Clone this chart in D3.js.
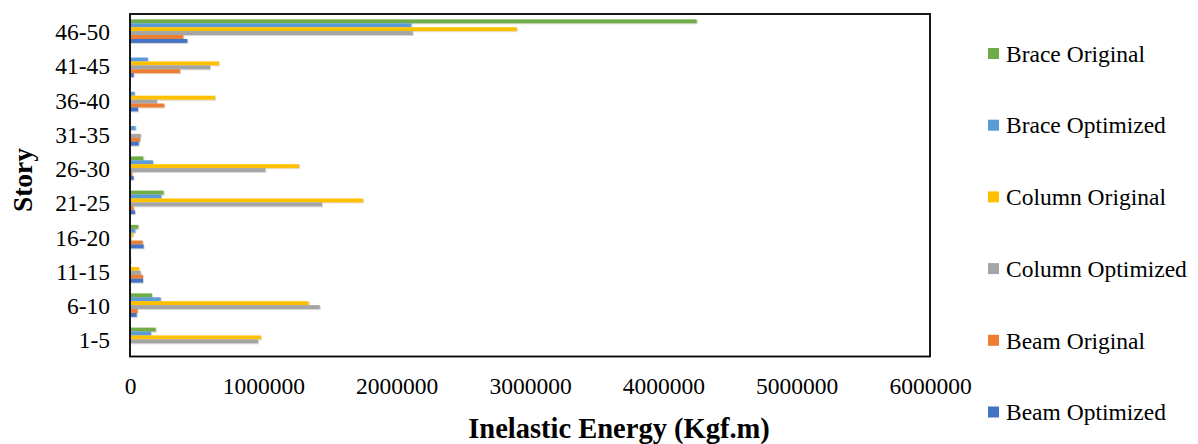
<!DOCTYPE html>
<html>
<head>
<meta charset="utf-8">
<script src="https://cdn.jsdelivr.net/npm/d3@7/dist/d3.min.js"></script>
<style>
  html, body { margin: 0; padding: 0; background: #fff; }
  svg text { font-family: "Liberation Serif", "Times New Roman", serif; fill: #000; }
</style>
</head>
<body>
<svg id="chart" width="1198" height="444"></svg>
<script>
// Story groups, listed bottom to top
const stories = ["1-5", "6-10", "11-15", "16-20", "21-25", "26-30", "31-35", "36-40", "41-45", "46-50"];

// Series names (drawn top to bottom inside each group)
const seriesNames = ["Brace Original", "Brace Optimized", "Column Original", "Column Optimized", "Beam Original", "Beam Optimized"];
const seriesColors = ["#70AD47", "#5B9BD5", "#FFC000", "#A5A5A5", "#ED7D31", "#4472C4"];

// Inelastic energy (Kgf.m) per story group, same order as `stories`
const braceOriginal    = [193000, 165000, 5000, 62000, 252000, 100000, 0, 0, 0, 4250000];
const braceOptimized   = [157000, 230000, 0, 40000, 235000, 172000, 42000, 35000, 134000, 2110000];
const columnOriginal   = [982000, 1340000, 67000, 22000, 1747000, 1267000, 0, 637000, 668000, 2900000];
const columnOptimized  = [960000, 1423000, 80000, 8000, 1440000, 1015000, 80000, 202000, 600000, 2120000];
const beamOriginal     = [0, 57000, 97000, 95000, 27000, 17000, 75000, 257000, 375000, 400000];
const beamOptimized    = [0, 50000, 97000, 102000, 37000, 27000, 65000, 60000, 28000, 430000];

const seriesValues = [braceOriginal, braceOptimized, columnOriginal, columnOptimized, beamOriginal, beamOptimized];

// X axis ticks
const xTicks = [0, 1000000, 2000000, 3000000, 4000000, 5000000, 6000000];

const svg = d3.select("#chart");
const plot = { left: 130, right: 930, top: 14, bottom: 356.5 };

const x = d3.scaleLinear().domain([0, 6000000]).range([plot.left, plot.right]);

// top-to-bottom order: highest stories first
const y0 = d3.scaleBand()
  .domain(stories.slice().reverse())
  .range([plot.top, plot.bottom])
  .paddingInner(0.314)
  .paddingOuter(0.157);

const y1 = d3.scaleBand()
  .domain(seriesNames)
  .range([0, y0.bandwidth()]);

// soft shadow under bars
const defs = svg.append("defs");
const f = defs.append("filter").attr("id", "barShadow")
  .attr("x", "-5%").attr("y", "-50%").attr("width", "110%").attr("height", "200%");
f.append("feDropShadow")
  .attr("dx", 0.8).attr("dy", 0.8).attr("stdDeviation", 0.5)
  .attr("flood-color", "#000").attr("flood-opacity", 0.22);

// bars
const rows = [];
stories.forEach((s, i) => {
  seriesNames.forEach((name, k) => {
    rows.push({ story: s, series: name, value: seriesValues[k][i], color: seriesColors[k] });
  });
});

svg.append("g")
  .attr("filter", "url(#barShadow)")
  .selectAll("rect")
  .data(rows.filter(d => d.value > 0))
  .join("rect")
  .attr("x", x(0))
  .attr("y", d => y0(d.story) + y1(d.series))
  .attr("width", d => x(d.value) - x(0))
  .attr("height", y1.bandwidth())
  .attr("fill", d => d.color);

// plot frame
svg.append("rect")
  .attr("x", plot.left).attr("y", plot.top)
  .attr("width", plot.right - plot.left).attr("height", plot.bottom - plot.top)
  .attr("fill", "none").attr("stroke", "#000").attr("stroke-width", 1.8);

// y axis labels
const yAxis = svg.append("g")
  .attr("transform", `translate(${plot.left},0)`)
  .call(d3.axisLeft(y0).tickSize(0).tickPadding(20));
yAxis.select(".domain").remove();
yAxis.selectAll("text")
  .attr("dy", "0.38em")
  .style("font-size", "23.5px")
  .style("font-family", "'Liberation Serif', 'Times New Roman', serif");

// x axis labels
const xAxis = svg.append("g")
  .attr("transform", `translate(0,${plot.bottom})`)
  .call(d3.axisBottom(x).tickValues(xTicks).tickSize(0).tickPadding(21).tickFormat(d3.format("d")));
xAxis.select(".domain").remove();
xAxis.selectAll("text")
  .style("font-size", "23.5px")
  .style("font-family", "'Liberation Serif', 'Times New Roman', serif");

// axis titles
svg.append("text")
  .attr("x", 619).attr("y", 438)
  .attr("text-anchor", "middle")
  .style("font-size", "28.5px").style("font-weight", "bold")
  .text("Inelastic Energy (Kgf.m)");

svg.append("text")
  .attr("transform", "translate(32,180) rotate(-90)")
  .attr("text-anchor", "middle")
  .style("font-size", "27.5px").style("font-weight", "bold")
  .text("Story");

// legend
const legend = svg.append("g");
seriesNames.forEach((name, k) => {
  const base = 61.7 + k * 71.7;
  legend.append("rect")
    .attr("x", 988).attr("y", base - 13.7)
    .attr("width", 11).attr("height", 11)
    .attr("fill", seriesColors[k]);
  legend.append("text")
    .attr("x", 1006).attr("y", base)
    .style("font-size", "23.5px")
    .text(name);
});
</script>
</body>
</html>
